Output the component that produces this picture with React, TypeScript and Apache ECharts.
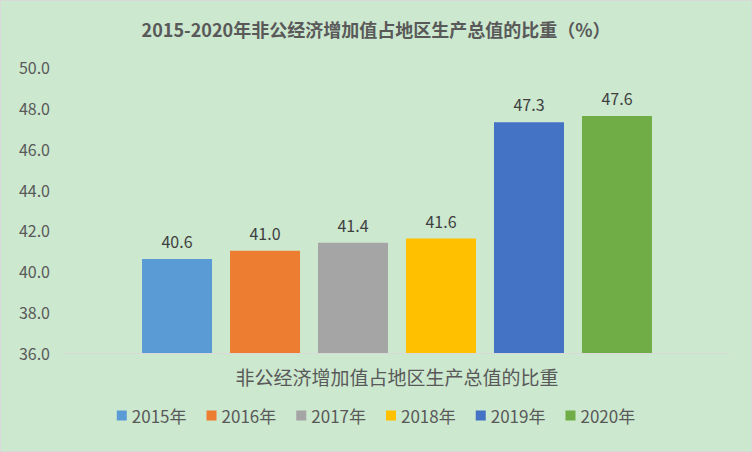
import React, { useEffect, useRef } from "react";
import * as echarts from "echarts";

const categories = ["非公经济增加值占地区生产总值的比重"];
const years = ["2015年", "2016年", "2017年", "2018年", "2019年", "2020年"];
const values = [40.6, 41.0, 41.4, 41.6, 47.3, 47.6];
const colors = ["#5B9BD5", "#ED7D31", "#A5A5A5", "#FFC000", "#4472C4", "#70AD47"];
const titleText = "2015-2020年非公经济增加值占地区生产总值的比重（%）";

const FONT = "'Noto Sans CJK SC', 'Noto Sans', sans-serif";

export default function App() {
  const ref = useRef<HTMLDivElement>(null);
  useEffect(() => {
    document.body.style.margin = "0";
    if (!ref.current) return;
    const chart = echarts.init(ref.current, undefined, { renderer: "svg" });
    chart.setOption({
      animation: false,
      backgroundColor: "#CCE8CF",
      textStyle: { fontFamily: FONT },
      title: {
        text: titleText,
        left: "center",
        top: 14,
        textStyle: { fontSize: 18, fontWeight: "bold", color: "#595959", fontFamily: FONT },
      },
      grid: { left: 64, right: 22, top: 66, bottom: 98 },
      legend: {
        bottom: 22,
        left: "center",
        icon: "rect",
        itemWidth: 10,
        itemHeight: 10,
        itemGap: 20,
        textStyle: { fontSize: 17, color: "#595959", fontFamily: FONT },
        data: years,
      },
      xAxis: {
        type: "category",
        data: categories,
        axisLine: { lineStyle: { color: "#D9D9D9", width: 1 } },
        axisTick: { show: false },
        axisLabel: { fontSize: 19, color: "#595959", margin: 14, fontFamily: FONT },
      },
      yAxis: {
        type: "value",
        min: 36,
        max: 50,
        interval: 2,
        axisLine: { show: false },
        axisTick: { show: false },
        splitLine: { show: false },
        axisLabel: {
          fontSize: 16,
          color: "#595959",
          margin: 15,
          fontFamily: FONT,
          formatter: (v: number) => v.toFixed(1),
        },
      },
      series: years.map((y, i) => ({
        name: y,
        type: "bar",
        barWidth: 70,
        barGap: "25.7%",
        itemStyle: { color: colors[i] },
        label: {
          show: true,
          position: "top",
          distance: 10,
          fontSize: 16,
          color: "#404040",
          fontFamily: FONT,
          formatter: (p: any) => Number(p.value).toFixed(1),
        },
        data: [values[i]],
      })),
    });
    return () => chart.dispose();
  }, []);
  return (
    <div
      style={{
        width: 752,
        height: 452,
        boxSizing: "border-box",
        border: "1px solid #D9D9D9",
        background: "#CCE8CF",
      }}
    >
      <div ref={ref} style={{ width: 750, height: 450 }} />
    </div>
  );
}
